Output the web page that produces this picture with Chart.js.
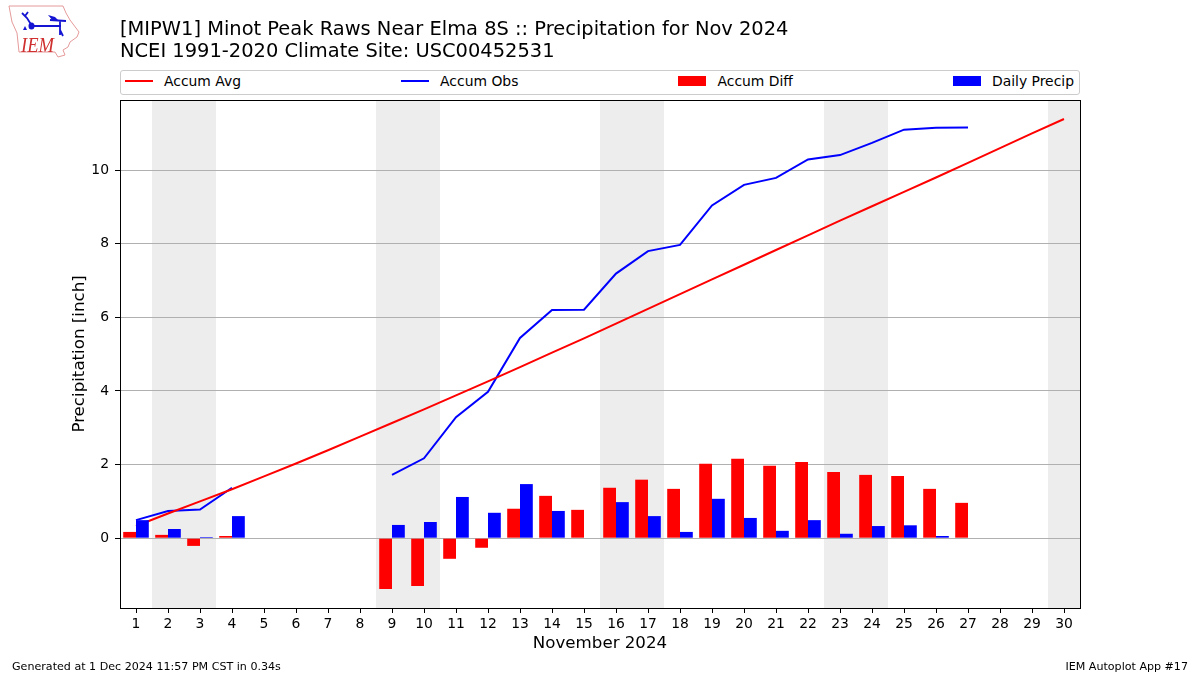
<!DOCTYPE html>
<html>
<head>
<meta charset="utf-8">
<title>Precipitation for Nov 2024</title>
<script src="https://cdn.jsdelivr.net/npm/chart.js@4/dist/chart.umd.min.js"></script>
<style>
  html, body { margin: 0; padding: 0; background: #fff; }
  body { width: 1200px; height: 675px; position: relative; overflow: hidden; font-family: "DejaVu Sans", sans-serif; color: #000; }
  #chart { position: absolute; left: 0; top: 0; }
  #logo { position: absolute; left: 0; top: 0; }
  #legend { position: absolute; left: 120px; top: 70px; width: 960px; height: 25px; box-sizing: border-box; border: 1px solid #ccc; border-radius: 3px; background: #fff; display: flex; justify-content: space-between; align-items: center; padding: 0 5px 3px 4px; font-size: 13.9px; }
  #legend .item { display: flex; align-items: center; }
  #legend .swatch { width: 28px; margin-right: 11px; }
  #legend .item.line .swatch { height: 2px; }
  #legend .item.bar .swatch { height: 10px; }
  .foot { position: absolute; top: 660px; font-size: 11.1px; }
</style>
</head>
<body>
<canvas id="chart" width="1200" height="675"></canvas>
<svg id="logo" width="90" height="65" viewBox="0 0 90 65">
  <path d="M9 6 L63 6 L66 13 L70 20 L79 32 L77 37 L70 42 L68 47 L63 50 L65 55 L58 57 L55 52 L19 52 L17 33 L12 22 Z" fill="#fff" stroke="#e59a9a" stroke-width="1"/>
  <path d="M32 26 L61 26 M50 20 L66 21 M60 21 L60 35 M60 30 L63 36 M32 26 L27 18 L22 13 M25 16 L28 12" fill="none" stroke="#1414d2" stroke-width="1.8"/>
  <ellipse cx="31.5" cy="26" rx="3" ry="3.5" fill="#1414d2"/>
  <path d="M48 15 L55 17 L59 21 L53 21 Z" fill="#1414d2"/>
  <path d="M23 30 L25 26 L27 30 Z" fill="#1414d2"/>
  <text x="21" y="52" font-family="Liberation Serif" font-style="italic" font-size="21" textLength="33" lengthAdjust="spacingAndGlyphs" fill="#cf2f2f">IEM</text>
</svg>
<div id="legend"></div>
<div class="foot" style="left:12px">Generated at 1 Dec 2024 11:57 PM CST in 0.34s</div>
<div class="foot" style="right:12px">IEM Autoplot App #17</div>
<script>
var days = ['1', '2', '3', '4', '5', '6', '7', '8', '9', '10', '11', '12', '13', '14', '15',
            '16', '17', '18', '19', '20', '21', '22', '23', '24', '25', '26', '27', '28', '29', '30'];
var accumAvg = [0.33, 0.67, 1.00, 1.33, 1.68, 2.03, 2.39, 2.76, 3.13, 3.50, 3.88, 4.26, 4.65, 5.04, 5.43,
                5.83, 6.23, 6.63, 7.03, 7.43, 7.83, 8.23, 8.63, 9.02, 9.41, 9.80, 10.20, 10.60, 11.00, 11.39];
var accumObs = [0.49, 0.74, 0.78, 1.37, null, null, null, null, 1.72, 2.17, 3.29, 3.98, 5.44, 6.20, 6.21,
                7.19, 7.80, 7.97, 9.04, 9.60, 9.79, 10.29, 10.41, 10.74, 11.10, 11.15, 11.16, null, null, null];
var accumDiff = [0.17, 0.09, -0.21, 0.06, null, null, null, null, -1.38, -1.30, -0.56, -0.26, 0.80, 1.15, 0.77,
                 1.37, 1.59, 1.34, 2.02, 2.16, 1.97, 2.07, 1.80, 1.72, 1.69, 1.34, 0.96, null, null, null];
var dailyPrecip = [0.49, 0.25, 0.03, 0.60, null, null, null, null, 0.36, 0.44, 1.12, 0.69, 1.47, 0.74, 0,
                   0.98, 0.60, 0.17, 1.07, 0.55, 0.20, 0.49, 0.12, 0.33, 0.35, 0.06, 0, null, null, null];
var weekendDays = ['2', '3', '9', '10', '16', '17', '23', '24', '30'];
var yTicks = [0, 2, 4, 6, 8, 10];

Chart.defaults.font.family = '"DejaVu Sans", sans-serif';
Chart.defaults.font.size = 13.9;
Chart.defaults.color = '#000';

// Grey bands behind the grid, black frame on top of the bars
var framePlugin = {
  id: 'frame',
  beforeDraw: function(chart) {
    var ctx = chart.ctx, area = chart.chartArea, x = chart.scales.x;
    var half = (x.getPixelForValue(1) - x.getPixelForValue(0)) / 2;
    ctx.save();
    ctx.fillStyle = '#ededed';
    weekendDays.forEach(function(d) {
      var px = x.getPixelForValue(days.indexOf(d));
      ctx.fillRect(px - half, area.top, half * 2, area.bottom - area.top);
    });
    ctx.restore();
  },
  afterDatasetsDraw: function(chart) {
    var ctx = chart.ctx, area = chart.chartArea;
    ctx.save();
    ctx.strokeStyle = '#000';
    ctx.lineWidth = 1;
    ctx.strokeRect(area.left + 0.5, Math.round(area.top) + 0.5, area.right - area.left, Math.round(area.bottom - area.top));
    ctx.restore();
  }
};

var precipChart = new Chart(document.getElementById('chart').getContext('2d'), {
  type: 'bar',
  data: {
    labels: days,
    datasets: [{
      type: 'line',
      label: 'Accum Avg',
      data: accumAvg,
      borderColor: '#ff0000',
      backgroundColor: '#ff0000',
      borderWidth: 2,
      pointRadius: 0,
      tension: 0,
      order: 2
    }, {
      type: 'line',
      label: 'Accum Obs',
      data: accumObs,
      borderColor: '#0000ff',
      backgroundColor: '#0000ff',
      borderWidth: 2,
      pointRadius: 0,
      tension: 0,
      order: 2
    }, {
      label: 'Accum Diff',
      data: accumDiff,
      backgroundColor: '#ff0000',
      categoryPercentage: 0.8,
      barPercentage: 1,
      order: 1
    }, {
      label: 'Daily Precip',
      data: dailyPrecip,
      backgroundColor: '#0000ff',
      categoryPercentage: 0.8,
      barPercentage: 1,
      order: 1
    }]
  },
  options: {
    responsive: false,
    animation: false,
    layout: { padding: { top: 19, right: 120, bottom: 0, left: 0 } },
    plugins: {
      legend: { display: false },
      tooltip: { enabled: false },
      title: {
        display: true,
        fullSize: false,
        align: 'start',
        text: ['[MIPW1] Minot Peak Raws Near Elma 8S :: Precipitation for Nov 2024',
               'NCEI 1991-2020 Climate Site: USC00452531'],
        font: { size: 19.44, weight: 'normal', lineHeight: 1.13 },
        padding: { top: 0, bottom: 37 }
      }
    },
    scales: {
      x: {
        afterFit: function(scale) { scale.height = 67; },
        border: { display: false },
        grid: { offset: false, drawOnChartArea: false, tickColor: '#000', tickLength: 5 },
        ticks: { autoSkip: false, maxRotation: 0, padding: 3 },
        title: { display: true, text: 'November 2024', font: { size: 16.67 }, padding: { top: 3, bottom: 21 } }
      },
      y: {
        min: -1.897,
        max: 11.908,
        afterFit: function(scale) { scale.width = 120; },
        afterBuildTicks: function(scale) {
          scale.ticks = yTicks.map(function(v) { return { value: v }; });
        },
        border: { display: false },
        grid: { color: '#b0b0b0', tickColor: '#000', tickLength: 5 },
        ticks: { padding: 6 },
        title: { display: true, text: 'Precipitation [inch]', font: { size: 16.67 }, padding: { top: 70, bottom: 0 } }
      }
    }
  },
  plugins: [framePlugin]
});

// Legend spread over the axes width, like the original
var legendBox = document.getElementById('legend');
precipChart.data.datasets.forEach(function(ds) {
  var item = document.createElement('div');
  item.className = 'item ' + (ds.type === 'line' ? 'line' : 'bar');
  var swatch = document.createElement('div');
  swatch.className = 'swatch';
  swatch.style.background = ds.backgroundColor;
  var label = document.createElement('span');
  label.textContent = ds.label;
  item.appendChild(swatch);
  item.appendChild(label);
  legendBox.appendChild(item);
});
</script>
</body>
</html>
